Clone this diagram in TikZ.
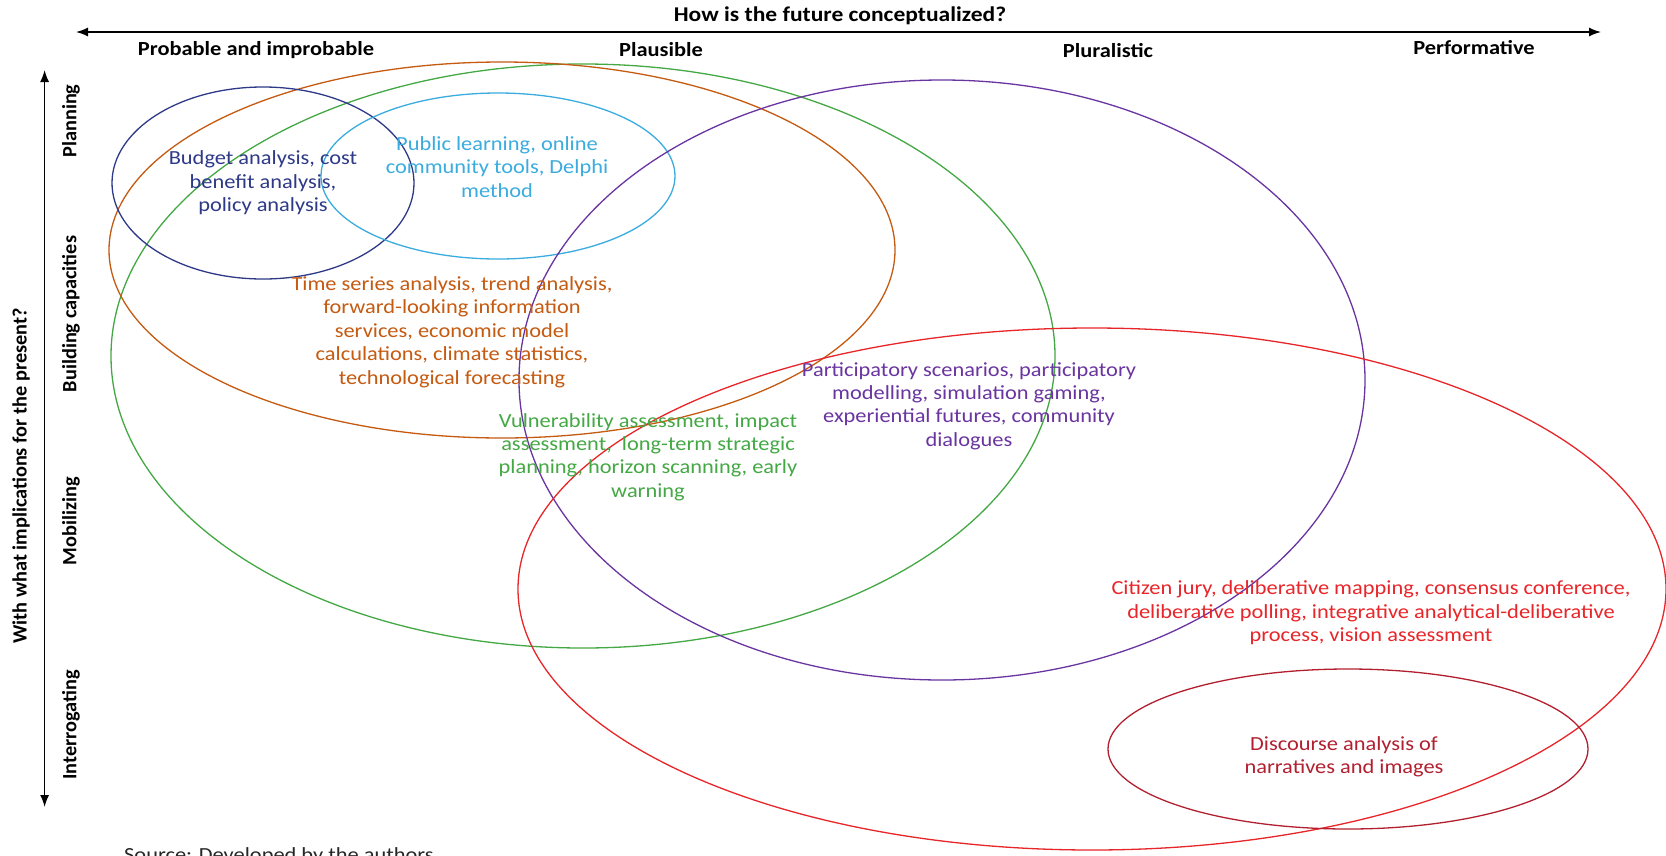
\documentclass[tikz,border=0pt]{standalone}
\usepackage{fontspec}
\setmainfont{Carlito}[FakeStretch=1.12]
\newfontfamily\uprightlbl{Carlito}
\usetikzlibrary{shapes.geometric,arrows.meta}
\definecolor{cnavy}{HTML}{2E3A87}
\definecolor{csky}{HTML}{3AACDF}
\definecolor{cbrown}{HTML}{C55A11}
\definecolor{cgreen}{HTML}{44A845}
\definecolor{cpurple}{HTML}{6A35A0}
\definecolor{cred}{HTML}{E8262A}
\definecolor{cdred}{HTML}{B22030}
\tikzset{
  ring/.style={draw, ellipse, inner sep=0pt, line width=1.3pt},
  lbl/.style={align=center, font=\fontsize{20}{23.4}\selectfont, inner sep=0pt},
  head/.style={font=\bfseries\fontsize{20}{22}\selectfont, inner sep=0pt},
  vhead/.style={font=\uprightlbl\bfseries\fontsize{20.3}{22}\selectfont, inner sep=0pt, rotate=90},
  axisarrow/.style={line width=1.4pt, {Latex[length=12pt,width=9pt]}-{Latex[length=12pt,width=9pt]}}
}
\begin{document}
\begin{tikzpicture}[x=1pt,y=-1pt]
\clip (0,0) rectangle (1666,855);
\fill[white] (0,0) rectangle (1666,855);
% axes
\coordinate (xl) at (76,32);
\coordinate (xr) at (1601,32);
\draw[axisarrow] (xl) -- (xr);
\coordinate (yt) at (44.6,70);
\coordinate (yb) at (44.6,807);
\draw[axisarrow] (yt) -- (yb);
\node[head, font=\bfseries\fontsize{21}{22}\selectfont] (xtitle) at (840,16) {How is the future conceptualized?};
\node[head] (c1) at (256,50) {Probable and improbable};
\node[head] (c2) at (661,50) {Plausible};
\node[head] (c3) at (1108,51) {Pluralistic};
\node[head] (c4) at (1474,48) {Performative};
\node[vhead] (ytitle) at (21,476) {With what implications for the present?};
\node[vhead] (r1) at (71,121) {Planning};
\node[vhead] (r2) at (71,314) {Building capacities};
\node[vhead] (r3) at (71,521) {Mobilizing};
\node[vhead] (r4) at (71,725) {Interrogating};
% ellipses
\node[ring, draw=cgreen, minimum width=944pt, minimum height=584pt] (eGreen) at (583,356) {};
\node[ring, draw=cbrown, minimum width=786pt, minimum height=376pt] (eBrown) at (502,250) {};
\node[ring, draw=cnavy, minimum width=302pt, minimum height=192pt] (eNavy) at (263,183) {};
\node[ring, draw=csky, minimum width=354pt, minimum height=166pt] (eSky) at (498,176) {};
\node[ring, draw=cpurple, minimum width=846pt, minimum height=600pt] (ePurple) at (942,380) {};
\node[ring, draw=cred, minimum width=1148pt, minimum height=522pt] (eRed) at (1092,589) {};
\node[ring, draw=cdred, minimum width=480pt, minimum height=160pt] (eDred) at (1348,749) {};
% labels
\node[lbl, text=cnavy] (tNavy) at (263,183) {Budget analysis, cost\\benefit analysis,\\policy analysis};
\node[lbl, text=csky] (tSky) at (497,167) {Public learning, online\\community tools, Delphi\\method};
\node[lbl, text=cbrown] (tBrown) at (452,332) {Time series analysis, trend analysis,\\forward-looking information\\services, economic model\\calculations, climate statistics,\\technological forecasting};
\node[lbl, text=cgreen] (tGreen) at (648,457) {Vulnerability assessment, impact\\assessment,\ \ long-term strategic\\planning, horizon scanning, early\\warning};
\node[lbl, text=cpurple] (tPurple) at (969,406) {Participatory scenarios, participatory\\modelling, simulation gaming,\\experiential futures, community\\dialogues};
\node[lbl, text=cred] (tRed) at (1371,613) {Citizen jury, deliberative mapping, consensus conference,\\deliberative polling, integrative analytical-deliberative\\process, vision assessment};
\node[lbl, text=cdred] (tDred) at (1344,757) {Discourse analysis of\\narratives and images};
\node[lbl, anchor=west, text=black!85] (src) at (124,856) {Source: Developed by the authors};
\end{tikzpicture}
\end{document}
